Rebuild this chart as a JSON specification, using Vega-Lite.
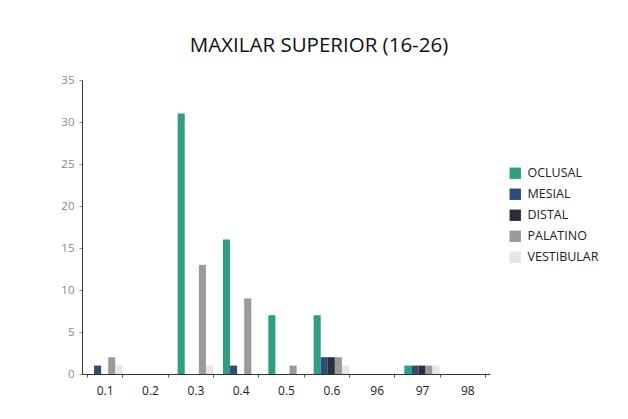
{
  "$schema": "https://vega.github.io/schema/vega-lite/v6.json",
  "width": 408,
  "height": 294,
  "autosize": {"type": "none"},
  "padding": {"left": 82, "top": 80, "right": 138, "bottom": 45},
  "background": "white",
  "config": {"font": "Open Sans", "view": {"stroke": null}},
  "title": {"text": "MAXILAR SUPERIOR (16-26)", "fontSize": 20.5, "fontWeight": "normal", "color": "#111", "anchor": "middle", "offset": 18, "dx": 33},
  "data": {"values": [
    {"cat": "0.1", "tipo": "OCLUSAL", "n": 0},
    {"cat": "0.1", "tipo": "MESIAL", "n": 1},
    {"cat": "0.1", "tipo": "DISTAL", "n": 0},
    {"cat": "0.1", "tipo": "PALATINO", "n": 2},
    {"cat": "0.1", "tipo": "VESTIBULAR", "n": 1},
    {"cat": "0.2", "tipo": "OCLUSAL", "n": 0},
    {"cat": "0.2", "tipo": "MESIAL", "n": 0},
    {"cat": "0.2", "tipo": "DISTAL", "n": 0},
    {"cat": "0.2", "tipo": "PALATINO", "n": 0},
    {"cat": "0.2", "tipo": "VESTIBULAR", "n": 0},
    {"cat": "0.3", "tipo": "OCLUSAL", "n": 31},
    {"cat": "0.3", "tipo": "MESIAL", "n": 0},
    {"cat": "0.3", "tipo": "DISTAL", "n": 0},
    {"cat": "0.3", "tipo": "PALATINO", "n": 13},
    {"cat": "0.3", "tipo": "VESTIBULAR", "n": 1},
    {"cat": "0.4", "tipo": "OCLUSAL", "n": 16},
    {"cat": "0.4", "tipo": "MESIAL", "n": 1},
    {"cat": "0.4", "tipo": "DISTAL", "n": 0},
    {"cat": "0.4", "tipo": "PALATINO", "n": 9},
    {"cat": "0.4", "tipo": "VESTIBULAR", "n": 0},
    {"cat": "0.5", "tipo": "OCLUSAL", "n": 7},
    {"cat": "0.5", "tipo": "MESIAL", "n": 0},
    {"cat": "0.5", "tipo": "DISTAL", "n": 0},
    {"cat": "0.5", "tipo": "PALATINO", "n": 1},
    {"cat": "0.5", "tipo": "VESTIBULAR", "n": 0},
    {"cat": "0.6", "tipo": "OCLUSAL", "n": 7},
    {"cat": "0.6", "tipo": "MESIAL", "n": 2},
    {"cat": "0.6", "tipo": "DISTAL", "n": 2},
    {"cat": "0.6", "tipo": "PALATINO", "n": 2},
    {"cat": "0.6", "tipo": "VESTIBULAR", "n": 1},
    {"cat": "96", "tipo": "OCLUSAL", "n": 0},
    {"cat": "96", "tipo": "MESIAL", "n": 0},
    {"cat": "96", "tipo": "DISTAL", "n": 0},
    {"cat": "96", "tipo": "PALATINO", "n": 0},
    {"cat": "96", "tipo": "VESTIBULAR", "n": 0},
    {"cat": "97", "tipo": "OCLUSAL", "n": 1},
    {"cat": "97", "tipo": "MESIAL", "n": 1},
    {"cat": "97", "tipo": "DISTAL", "n": 1},
    {"cat": "97", "tipo": "PALATINO", "n": 1},
    {"cat": "97", "tipo": "VESTIBULAR", "n": 1},
    {"cat": "98", "tipo": "OCLUSAL", "n": 0},
    {"cat": "98", "tipo": "MESIAL", "n": 0},
    {"cat": "98", "tipo": "DISTAL", "n": 0},
    {"cat": "98", "tipo": "PALATINO", "n": 0},
    {"cat": "98", "tipo": "VESTIBULAR", "n": 0}
  ]},
  "mark": {"type": "bar"},
  "encoding": {
    "x": {
      "field": "cat", "type": "nominal", "sort": null,
      "scale": {"paddingInner": 0.22, "paddingOuter": 0.11},
      "axis": {"title": null, "labelAngle": 0, "labelFontSize": 12, "labelColor": "#222", "domainColor": "#333", "tickColor": "#555", "tickSize": 3, "tickBand": "extent", "labelPadding": 8, "grid": false}
    },
    "xOffset": {"field": "tipo", "type": "nominal", "sort": ["OCLUSAL", "MESIAL", "DISTAL", "PALATINO", "VESTIBULAR"], "scale": {"paddingInner": 0, "paddingOuter": 0}},
    "y": {
      "field": "n", "type": "quantitative",
      "scale": {"domain": [0, 35], "nice": false},
      "axis": {"title": null, "values": [0, 5, 10, 15, 20, 25, 30, 35], "grid": false, "labelFontSize": 11.5, "labelColor": "#888", "domainColor": "#333", "tickColor": "#888", "tickSize": 3, "labelPadding": 5}
    },
    "color": {
      "field": "tipo", "type": "nominal",
      "sort": ["OCLUSAL", "MESIAL", "DISTAL", "PALATINO", "VESTIBULAR"],
      "scale": {"domain": ["OCLUSAL", "MESIAL", "DISTAL", "PALATINO", "VESTIBULAR"], "range": ["#2e9e82", "#2b4d7a", "#2c2f3b", "#9a9a9a", "#e6e6e6"]},
      "legend": {"title": null, "orient": "none", "legendX": 427, "legendY": 87, "symbolType": "square", "symbolSize": 130, "labelFontSize": 12.5, "labelColor": "#222", "rowPadding": 8, "labelOffset": 6, "symbolStrokeWidth": 0}
    }
  }
}
